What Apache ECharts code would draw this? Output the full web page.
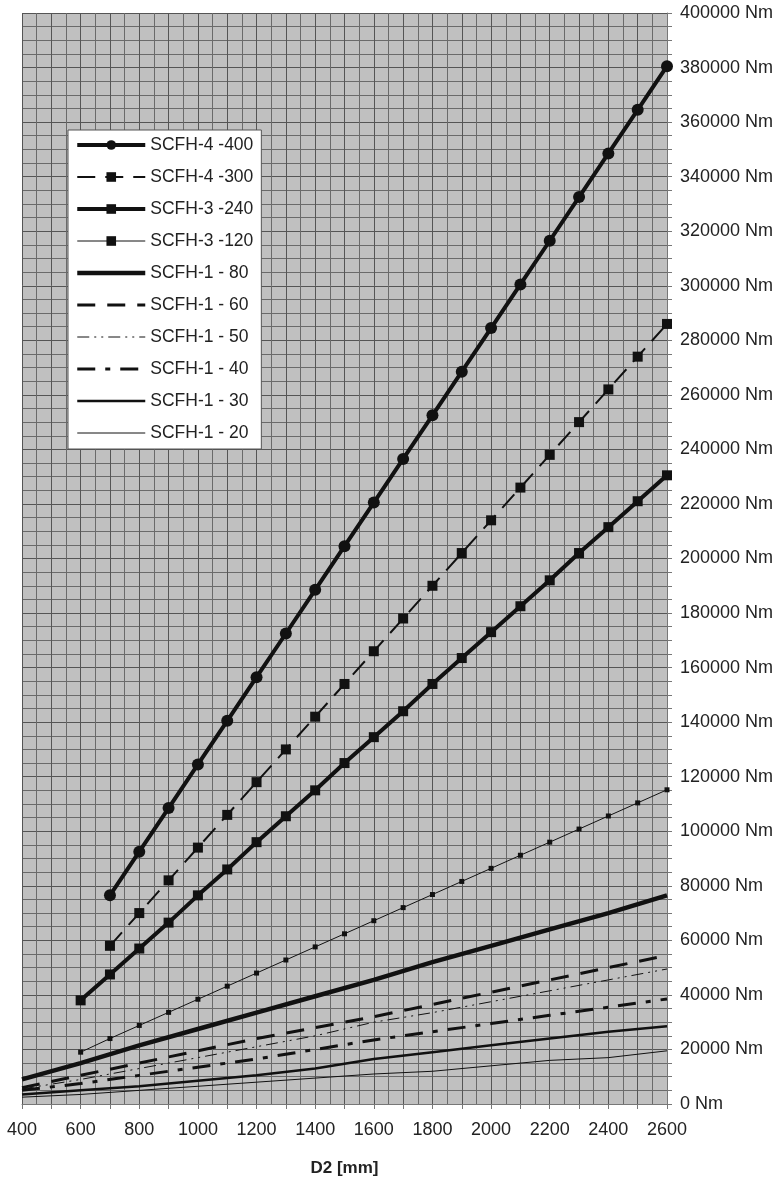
<!DOCTYPE html>
<html>
<head>
<meta charset="utf-8">
<script src="https://cdn.jsdelivr.net/npm/echarts@6/dist/echarts.min.js"></script>
<style>
html,body{margin:0;padding:0;background:#fff;}
#chart{width:777px;height:1182px;}
</style>
</head>
<body>
<div id="chart"></div>
<script>
// ---- data (values in Nm, D2 in mm) ----
const seriesNames = ['SCFH-4 -400','SCFH-4 -300','SCFH-3 -240','SCFH-3 -120','SCFH-1 - 80','SCFH-1 - 60','SCFH-1 - 50','SCFH-1 - 40','SCFH-1 - 30','SCFH-1 - 20'];

const d2From700 = [700,800,900,1000,1100,1200,1300,1400,1500,1600,1700,1800,1900,2000,2100,2200,2300,2400,2500,2600];
const d2From600 = [600,700,800,900,1000,1100,1200,1300,1400,1500,1600,1700,1800,1900,2000,2100,2200,2300,2400,2500,2600];
const d2From400 = [400,600,800,1000,1200,1400,1600,1800,2000,2200,2400,2600];

const scfh4_400 = [76500,92500,108500,124500,140500,156500,172500,188500,204500,220500,236500,252500,268500,284500,300500,316500,332500,348500,364500,380500];
const scfh4_300 = [58000,70000,82000,94000,106000,118000,130000,142000,154000,166000,178000,190000,202000,214000,226000,238000,250000,262000,274000,286000];
const scfh3_240 = [38000,47500,57000,66500,76500,86000,96000,105500,115000,125000,134500,144000,154000,163500,173000,182500,192000,202000,211500,221000,230500];
const scfh3_120 = [19000,24000,28800,33600,38400,43200,48000,52800,57600,62400,67200,72000,76800,81600,86400,91200,96000,100800,105600,110400,115200];
const scfh1_80 = [9000,15000,21500,27500,33500,39500,45500,52000,58000,64000,70000,76500];
const scfh1_60 = [6000,10500,15000,19500,24000,28000,32000,36500,41000,45500,50000,54500];
const scfh1_50 = [5500,9000,13000,17000,21000,25000,30000,33500,37500,41500,45500,49500];
const scfh1_40 = [5000,7500,10500,13500,16500,20000,23500,26500,29500,32500,35500,38500];
const scfh1_30 = [3500,5000,6500,8500,10500,13000,16500,19000,21500,24000,26500,28500];
const scfh1_20 = [2500,3500,5000,6500,8000,9500,11000,12000,14000,16000,17000,19500];

const xTicks = {min:400, max:2600, interval:100, labelStep:200};
const yTicks = {min:0, max:400000, interval:20000};

function pairs(xs, ys){ return xs.map((x,i)=>[x, ys[i]]); }

const FONT = '"Liberation Sans", Arial, sans-serif';
const INK = '#111';

function mk(name, xs, ys, width, dash, symbol, symbolSize){
  const hasSym = symbol !== 'none';
  return {
    name: name,
    type: 'line',
    data: pairs(xs, ys),
    showSymbol: hasSym,
    symbol: hasSym ? symbol : 'circle',
    symbolSize: hasSym ? symbolSize : 0,
    lineStyle: {color: INK, width: width, type: dash},
    itemStyle: {color: hasSym ? INK : 'rgba(0,0,0,0)', borderWidth: 0},
    silent: true,
    z: 3
  };
}

const series = [
  mk(seriesNames[0], d2From700, scfh4_400, 4, 'solid', 'circle', 12),
  mk(seriesNames[1], d2From700, scfh4_300, 2, [18,10], 'rect', 10),
  mk(seriesNames[2], d2From600, scfh3_240, 4, 'solid', 'rect', 10),
  mk(seriesNames[3], d2From600, scfh3_120, 1, 'solid', 'rect', 5),
  mk(seriesNames[4], d2From400, scfh1_80, 4.5, 'solid', 'none', 0),
  mk(seriesNames[5], d2From400, scfh1_60, 3, [18,12], 'none', 0),
  mk(seriesNames[6], d2From400, scfh1_50, 1, [12,5,2,5,2,5], 'none', 0),
  mk(seriesNames[7], d2From400, scfh1_40, 3, [18,10,5,10], 'none', 0),
  mk(seriesNames[8], d2From400, scfh1_30, 2.5, 'solid', 'none', 0),
  mk(seriesNames[9], d2From400, scfh1_20, 1, 'solid', 'none', 0)
];

const chart = echarts.init(document.getElementById('chart'), null, {renderer:'canvas'});
chart.setOption({
  animation: false,
  backgroundColor: '#ffffff',
  grid: {left: 22, right: 110, top: 13, bottom: 72, show: true, backgroundColor: '#c0c0c0', borderWidth: 0},
  legend: {
    data: seriesNames,
    orient: 'vertical',
    left: 68, top: 130,
    padding: [6, 8, 7, 7],
    itemWidth: 68, itemHeight: 12, itemGap: 14,
    backgroundColor: '#ffffff',
    borderColor: '#555', borderWidth: 1,
    lineStyle: {width: 'inherit'},
    textStyle: {fontFamily: FONT, fontSize: 17.5, color: '#222'},
    selectedMode: false
  },
  xAxis: {
    type: 'value',
    min: xTicks.min, max: xTicks.max, interval: xTicks.interval,
    name: 'D2 [mm]', nameLocation: 'middle', nameGap: 56,
    nameTextStyle: {fontFamily: FONT, fontSize: 17, fontWeight: 'bold', color: '#222'},
    axisLine: {show: true, lineStyle: {color: '#777', width: 1}},
    axisTick: {show: true, length: 5, lineStyle: {color: '#777'}},
    axisLabel: {fontFamily: FONT, fontSize: 18, color: '#222', margin: 17,
      formatter: v => (v % xTicks.labelStep === 0 ? String(v) : '')},
    splitLine: {show: true, lineStyle: {color: '#555', width: 1}},
    minorTick: {show: false, splitNumber: 2},
    minorSplitLine: {show: true, lineStyle: {color: '#6a6a6a', width: 1}}
  },
  yAxis: {
    type: 'value', position: 'right',
    min: yTicks.min, max: yTicks.max, interval: yTicks.interval,
    axisLine: {show: true, lineStyle: {color: '#777', width: 1}},
    axisTick: {show: true, length: 5, lineStyle: {color: '#777'}},
    minorTick: {show: true, splitNumber: 4, length: 5, lineStyle: {color: '#777'}},
    axisLabel: {fontFamily: FONT, fontSize: 18, color: '#222', margin: 13,
      formatter: v => v + ' Nm'},
    splitLine: {show: true, lineStyle: {color: '#555', width: 1}},
    minorSplitLine: {show: true, lineStyle: {color: '#6a6a6a', width: 1}}
  },
  series: series
});
</script>
</body>
</html>
